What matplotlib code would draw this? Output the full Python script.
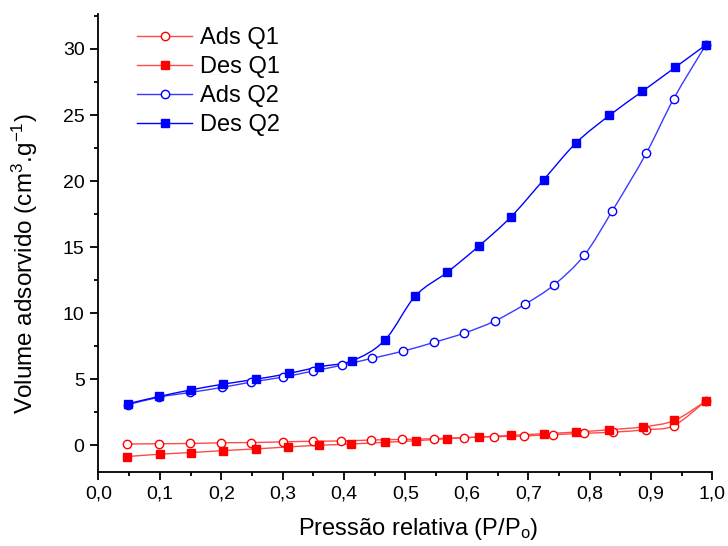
import numpy as np
import matplotlib
matplotlib.use("Agg")
import matplotlib.pyplot as plt
from matplotlib.path import Path
from matplotlib.patches import PathPatch
from matplotlib.ticker import MultipleLocator, FuncFormatter

plt.rcParams['font.family'] = ['Liberation Sans', 'DejaVu Sans']
plt.rcParams['mathtext.default'] = 'regular'

# Relative pressure (P/Po) and adsorbed volume (cm3/g)
p_ads_q1 = [0.047, 0.098, 0.149, 0.200, 0.248, 0.300, 0.349, 0.395, 0.444, 0.495,
            0.546, 0.595, 0.644, 0.693, 0.741, 0.791, 0.838, 0.892, 0.937, 0.989]
v_ads_q1 = [0.10, 0.12, 0.14, 0.19, 0.21, 0.26, 0.31, 0.33, 0.40, 0.45,
            0.50, 0.58, 0.65, 0.71, 0.81, 0.91, 1.00, 1.18, 1.49, 3.35]

p_des_q1 = [0.047, 0.100, 0.150, 0.203, 0.257, 0.309, 0.359, 0.412, 0.467, 0.517,
            0.568, 0.620, 0.672, 0.725, 0.777, 0.832, 0.887, 0.938, 0.989]
v_des_q1 = [-0.85, -0.67, -0.55, -0.40, -0.27, -0.12, 0.00, 0.10, 0.23, 0.35,
            0.50, 0.63, 0.75, 0.88, 1.00, 1.18, 1.40, 1.88, 3.35]

p_ads_q2 = [0.048, 0.099, 0.149, 0.201, 0.249, 0.300, 0.349, 0.397, 0.445, 0.496,
            0.547, 0.596, 0.645, 0.694, 0.742, 0.791, 0.837, 0.892, 0.937, 0.989]
v_ads_q2 = [3.07, 3.65, 4.00, 4.38, 4.79, 5.16, 5.62, 6.07, 6.58, 7.13,
            7.80, 8.50, 9.40, 10.66, 12.15, 14.38, 17.76, 22.10, 26.25, 30.30]

p_des_q2 = [0.048, 0.099, 0.151, 0.203, 0.257, 0.310, 0.359, 0.413, 0.466, 0.516,
            0.568, 0.620, 0.672, 0.725, 0.778, 0.832, 0.886, 0.939, 0.989]
v_des_q2 = [3.15, 3.70, 4.20, 4.63, 5.01, 5.44, 5.94, 6.40, 7.94, 11.30,
            13.10, 15.10, 17.30, 20.10, 22.90, 24.97, 26.80, 28.60, 30.30]

x_ticks = [0.0, 0.1, 0.2, 0.3, 0.4, 0.5, 0.6, 0.7, 0.8, 0.9, 1.0]


def smooth_path(xs, ys, ax):
    """Catmull-Rom curve through the points, built in display space."""
    pts = ax.transData.transform(np.column_stack([xs, ys]))
    verts = [pts[0]]
    codes = [Path.MOVETO]
    n = len(pts)
    for i in range(n - 1):
        p0 = pts[i - 1] if i > 0 else pts[i]
        p1 = pts[i]
        p2 = pts[i + 1]
        p3 = pts[i + 2] if i + 2 < n else pts[i + 1]
        c1 = p1 + (p2 - p0) / 6.0
        c2 = p2 - (p3 - p1) / 6.0
        verts += [c1, c2, p2]
        codes += [Path.CURVE4] * 3
    return Path(verts, codes)


fig = plt.figure(figsize=(7.28, 5.46), dpi=100)
ax = fig.add_axes([0.1353, 0.1360, 0.8434, 0.8384])
ax.set_xlim(0.0, 1.0)
ax.set_ylim(-2.0, 32.65)

series = [
    (p_ads_q1, v_ads_q1, '#ff0000', '#ff4a4a', 'o', 'white', 'Ads Q1'),
    (p_des_q1, v_des_q1, '#ff0000', '#ff4a4a', 's', '#ff0000', 'Des Q1'),
    (p_ads_q2, v_ads_q2, '#0000ff', '#3a3aff', 'o', 'white', 'Ads Q2'),
    (p_des_q2, v_des_q2, '#0000ff', '#0000ff', 's', '#0000ff', 'Des Q2'),
]

fig.canvas.draw()
handles = []
for xs, ys, mcol, lcol, mk, face, lab in series:
    path = smooth_path(xs, ys, ax)
    patch = PathPatch(path, facecolor='none', edgecolor=lcol, lw=1.0,
                      transform=None, zorder=2)
    ax.add_artist(patch)
    ms = 5.5 if mk == 's' else 6
    ax.plot(xs, ys, linestyle='none', marker=mk, ms=ms,
            mfc=face, mec=mcol, mew=1.0, zorder=3)
    h, = ax.plot([], [], color=lcol, lw=1.0, marker=mk, ms=ms,
                 mfc=face, mec=mcol, mew=1.0, label=lab)
    handles.append(h)

for side in ('top', 'right'):
    ax.spines[side].set_visible(False)
ax.spines['left'].set_linewidth(1.3)
ax.spines['bottom'].set_linewidth(1.3)

ax.set_xticks(x_ticks)
ax.xaxis.set_minor_locator(MultipleLocator(0.05))
ax.yaxis.set_major_locator(MultipleLocator(5))
ax.yaxis.set_minor_locator(MultipleLocator(2.5))
ax.xaxis.set_major_formatter(FuncFormatter(lambda v, _: f"{v:.1f}".replace('.', ',')))
ax.yaxis.set_major_formatter(FuncFormatter(lambda v, _: f"{v:.0f}"))
ax.tick_params(which='major', direction='out', length=5.5, width=1.3,
               labelsize=14, pad=4.5)
ax.tick_params(which='minor', direction='out', length=3, width=1.3)

ax.set_xlabel('Pressão relativa (P/P$_o$)', fontsize=17)
ax.set_ylabel('Volume adsorvido (cm$^3$.g$^{-1}$)', fontsize=17.5)
ax.xaxis.set_label_coords(0.52, -0.097)
ax.yaxis.set_label_coords(-0.095, 0.455)

ax.legend(handles=handles, loc='upper left', bbox_to_anchor=(0.028, 1.018),
          frameon=False, fontsize=17, handlelength=2.35, handletextpad=0.3,
          labelspacing=0.3)

fig.savefig('out.png', dpi=100)
